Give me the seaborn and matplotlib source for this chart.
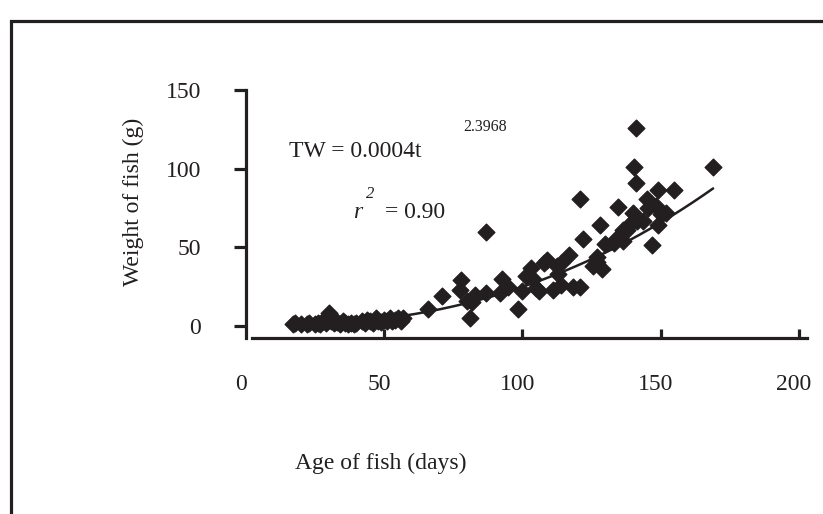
import numpy as np
import pandas as pd
import matplotlib
matplotlib.use("Agg")
import matplotlib.pyplot as plt
import matplotlib.transforms as mtransforms
from matplotlib.lines import Line2D
import seaborn as sns

# ---------------- data ----------------
age_days = [17, 18, 20, 22, 23, 25, 26, 27, 28, 29, 30, 30, 31, 32, 33, 34, 35, 36, 37, 38,
            39, 40, 42, 43, 44, 45, 46, 47, 48, 49, 50, 51, 52, 53, 54, 55, 56, 57,
            66, 71, 77.5, 78, 80, 81, 82, 83, 87, 87, 92, 92.5, 95, 98.5, 100, 101.5, 103, 104,
            105, 106, 108, 109, 111, 112.5, 113, 114, 114, 117, 118.5, 121, 121, 122, 125.5, 127,
            127, 129, 128, 130, 133, 134, 134.5, 136.5, 136.5, 138, 139, 140, 140.5, 141, 141,
            141.5, 143.5, 145, 145.5, 147, 148.5, 149, 149, 150, 152, 155, 169]
weight_g = [1, 2, 1.5, 1, 2, 1, 2, 1.5, 3, 2, 4, 8, 3, 2, 2.5, 1, 3, 2, 1.5, 2,
            1, 2, 3, 2, 4, 3, 2, 5, 3, 2.5, 4, 3, 5, 3, 4, 5, 3, 5,
            11, 19, 23, 29, 16, 5, 15, 20, 60, 21, 21, 30, 25, 11, 22, 32, 37, 30,
            24, 22, 40, 42, 23, 38, 33, 40, 26, 45, 25, 25, 80.5, 55, 38, 41,
            44, 36, 64, 52, 53, 55, 75.5, 61, 54, 61, 65, 72, 101, 126, 91,
            67, 67, 81, 75, 51.5, 76, 86.5, 64, 71.5, 72, 86.5, 101]
x_ticks = [0, 50, 100, 150, 200]
y_ticks = [0, 50, 100, 150]
coef_a = 0.0004      # TW = a * t^b
coef_b = 2.3968
x_label = "Age of fish (days)"
y_label = "Weight of fish (g)"

df = pd.DataFrame({"age": age_days, "weight": weight_g})
t_fit = np.linspace(min(age_days), max(age_days), 200)
fit_df = pd.DataFrame({"age": t_fit, "weight": coef_a * t_fit ** coef_b})

# ---------------- style ----------------
sns.set_style("ticks")
INK = "#231f20"
plt.rcParams["font.family"] = ["Liberation Serif", "DejaVu Serif"]
plt.rcParams["text.color"] = INK

W, H = 823, 514
fig = plt.figure(figsize=(W / 100, H / 100), dpi=100)
fig.patch.set_facecolor("white")


def fx(px):
    return px / W


def fy(py):
    return 1 - py / H


ax_left, ax_right, ax_top, ax_bottom = 237.4, 812.7, 86.9, 337.5
ax = fig.add_axes([fx(ax_left), fy(ax_bottom), (ax_right - ax_left) / W, (ax_bottom - ax_top) / H])
ax.set_facecolor("white")

sns.scatterplot(data=df, x="age", y="weight", ax=ax, marker="D", s=72,
                color=INK, edgecolor=INK, linewidth=1.0, zorder=3, legend=False)
ax.collections[0].set_joinstyle("round")
sns.lineplot(data=fit_df, x="age", y="weight", ax=ax, color=INK, linewidth=1.8,
             zorder=4, estimator=None, sort=True)

ax.set_xlim(-3, 205)
ax.set_ylim(-7.3, 152)
ax.set_xticks(x_ticks)
ax.set_yticks(y_ticks)
ax.set_xticklabels([str(v) for v in x_ticks])
ax.set_yticklabels([str(v) for v in y_ticks])

for side in ["top", "right"]:
    ax.spines[side].set_visible(False)
ax.spines["left"].set_position(("data", 0))
ax.spines["left"].set_bounds(-7.3, 150)
ax.spines["bottom"].set_bounds(2.3, 203)
for side in ["left", "bottom"]:
    ax.spines[side].set_linewidth(2.3)
    ax.spines[side].set_color(INK)

ax.tick_params(axis="y", direction="out", length=8.6, width=2.3, pad=23.5,
               labelsize=17, colors=INK)
ax.tick_params(axis="x", direction="in", length=6.5, width=2.3, pad=26,
               labelsize=17, colors=INK)
xt = ax.xaxis.get_major_ticks()
xt[0].tick1line.set_visible(False)
shift = mtransforms.ScaledTranslation(-5 / 100, 0, fig.dpi_scale_trans)
for tk in xt:
    tk.label1.set_transform(tk.label1.get_transform() + shift)

ax.set_xlabel(x_label, fontsize=17, color=INK)
ax.set_ylabel(y_label, fontsize=17, color=INK)
ax.xaxis.set_label_coords((381 - ax_left) / (ax_right - ax_left),
                          (ax_bottom - 469) / (ax_bottom - ax_top))
ax.xaxis.label.set_va("baseline")
ax.yaxis.set_label_coords((133 - ax_left) / (ax_right - ax_left),
                          (ax_bottom - 201.5) / (ax_bottom - ax_top))
ax.yaxis.label.set_va("center")

# equation annotation
fig.text(fx(289), fy(157), "TW = 0.0004t", fontsize=17, va="baseline", ha="left")
fig.text(fx(463), fy(131), "2.3968", fontsize=11.5, va="baseline", ha="left")
fig.text(fx(353), fy(218), "r", fontsize=17, style="italic", va="baseline", ha="left")
fig.text(fx(366), fy(198), "2", fontsize=12, style="italic", va="baseline", ha="left")
fig.text(fx(385), fy(218), "= 0.90", fontsize=17, va="baseline", ha="left")

# outer chart-area border (clipped at the right and bottom of the image)
fig.add_artist(Line2D([fx(11), fx(11), fx(830)], [fy(520), fy(21), fy(21)],
                      transform=fig.transFigure, color=INK, linewidth=2.3,
                      solid_joinstyle="miter"))

fig.savefig("out.png", dpi=100, facecolor="white")
